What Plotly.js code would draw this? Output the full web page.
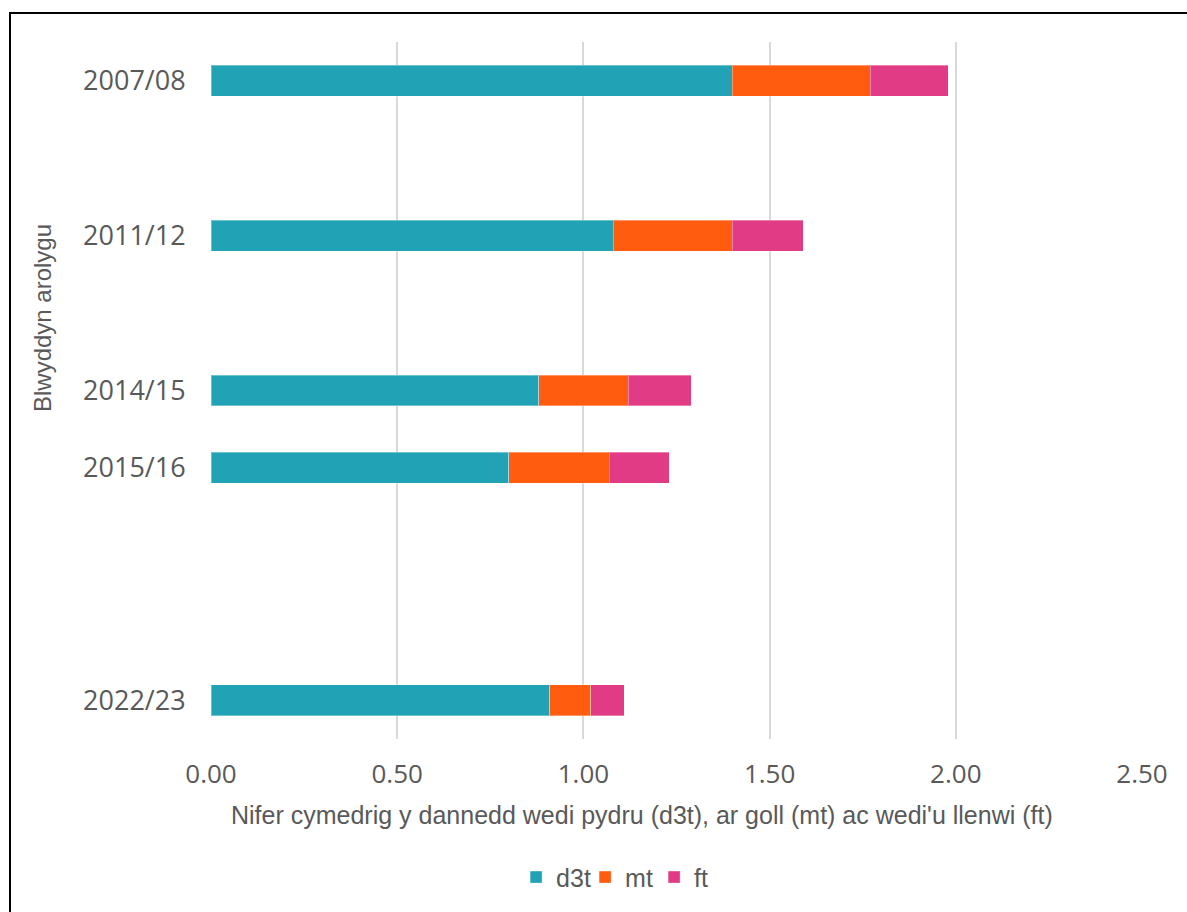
<!DOCTYPE html>
<html>
<head>
<meta charset="utf-8">
<script src="https://cdn.plot.ly/plotly-3.0.1.min.js"></script>
<style>
  html, body { margin: 0; padding: 0; background: #ffffff; }
  #wrap { position: relative; width: 1187px; height: 912px; overflow: hidden; }
  #chart { position: absolute; left: 0; top: 0; width: 1187px; height: 912px; }
  #frame { position: absolute; left: 9px; top: 12px; width: 1200px; height: 920px;
           border-top: 2px solid #000; border-left: 2px solid #000; pointer-events: none; }
</style>
</head>
<body>
<div id="wrap">
  <div id="chart"></div>
  <div id="frame"></div>
</div>
<script>
// Survey years (with empty slots kept on the category axis as in the original)
const years = ['2007/08', '2011/12', '2014/15', '2015/16', '2022/23'];
const categoryOrder = ['2007/08', ' ', '2011/12', '  ', '2014/15', '2015/16', '   ', '    ', '2022/23'];

// Mean number of teeth: decayed (d3t), missing (mt), filled (ft)
const d3t = [1.40, 1.08, 0.88, 0.80, 0.91];
const mt  = [0.37, 0.32, 0.24, 0.27, 0.11];
const ft  = [0.21, 0.19, 0.17, 0.16, 0.09];

const seriesNames = ['d3t', 'mt', 'ft'];
const seriesColors = ['#22A2B5', '#FF5C10', '#E03B84'];
const seriesValues = [d3t, mt, ft];

const xTickVals = [0, 0.5, 1.0, 1.5, 2.0, 2.5];
const xTitle = "Nifer cymedrig y dannedd wedi pydru (d3t), ar goll (mt) ac wedi'u llenwi (ft)";
const yTitle = 'Blwyddyn arolygu';

const textColor = '#595959';

const traces = seriesNames.map((name, i) => ({
  type: 'bar',
  orientation: 'h',
  name: name,
  y: years,
  x: seriesValues[i],
  marker: { color: seriesColors[i], line: { color: 'rgba(255,255,255,0.35)', width: 1 } },
  hoverinfo: 'x+y+name'
}));

const layout = {
  width: 1187,
  height: 912,
  paper_bgcolor: 'rgba(0,0,0,0)',
  plot_bgcolor: '#ffffff',
  barmode: 'stack',
  bargap: 0.6,
  margin: { l: 211, r: 45, t: 42, b: 173 },
  font: { family: 'Open Sans, sans-serif', color: textColor },
  showlegend: true,
  xaxis: {
    range: [0, 2.5],
    tickvals: xTickVals,
    tickformat: '.2f',
    showgrid: true,
    gridcolor: '#D9D9D9',
    gridwidth: 2,
    zeroline: false,
    showline: false,
    ticks: 'outside',
    ticklen: 12,
    tickcolor: 'rgba(0,0,0,0)',
    tickfont: { size: 26, color: textColor },
    fixedrange: true
  },
  yaxis: {
    type: 'category',
    categoryorder: 'array',
    categoryarray: categoryOrder,
    autorange: 'reversed',
    showgrid: false,
    zeroline: false,
    showline: false,
    ticks: 'outside',
    ticklen: 19,
    tickcolor: 'rgba(0,0,0,0)',
    tickfont: { size: 27, color: textColor },
    fixedrange: true
  },
  legend: {
    orientation: 'h',
    xref: 'container',
    yref: 'container',
    x: 0.522,
    xanchor: 'center',
    y: 0.038,
    yanchor: 'middle',
    font: { size: 25, color: textColor, family: 'Liberation Sans, sans-serif' },
    entrywidth: 24,
    entrywidthmode: 'pixels',
    traceorder: 'normal'
  },
  annotations: [{
    text: yTitle,
    xref: 'paper', yref: 'paper',
    x: -0.1815, y: 0.604,
    xanchor: 'center', yanchor: 'middle',
    textangle: -90,
    showarrow: false,
    font: { size: 24, color: textColor, family: 'Liberation Sans, sans-serif' }
  }, {
    text: xTitle,
    xref: 'paper', yref: 'paper',
    x: 0.463, y: -0.109,
    xanchor: 'center', yanchor: 'middle',
    showarrow: false,
    font: { size: 25, color: textColor, family: 'Liberation Sans, sans-serif' }
  }]
};

Plotly.newPlot('chart', traces, layout, { displayModeBar: false, staticPlot: false });
</script>
</body>
</html>
